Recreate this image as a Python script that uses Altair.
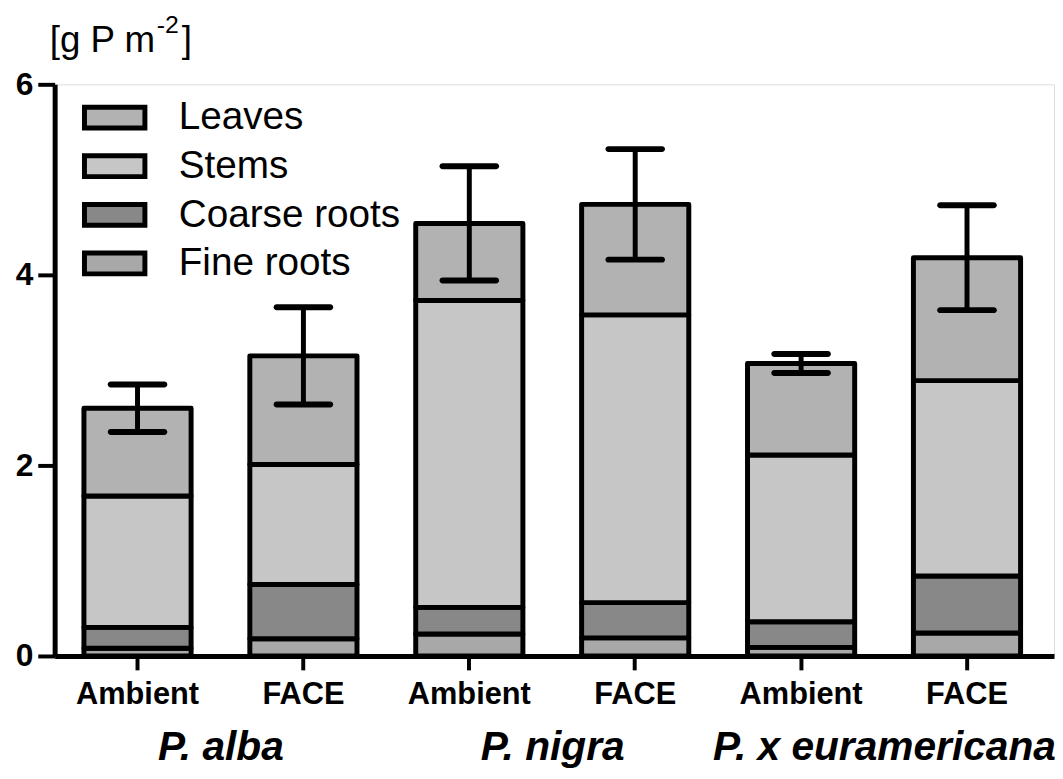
import altair as alt
import pandas as pd

# ---- data ----
species = ["P. alba", "P. alba", "P. nigra", "P. nigra", "P. x euramericana", "P. x euramericana"]
treatment = ["Ambient", "FACE", "Ambient", "FACE", "Ambient", "FACE"]
fine_roots = [0.08, 0.18, 0.23, 0.19, 0.09, 0.24]
coarse_roots = [0.22, 0.57, 0.28, 0.37, 0.27, 0.60]
stems = [1.38, 1.26, 3.22, 3.02, 1.75, 2.05]
leaves = [0.92, 1.14, 0.81, 1.16, 0.96, 1.29]
se = [0.25, 0.51, 0.60, 0.58, 0.10, 0.55]
components = ["Leaves", "Stems", "Coarse roots", "Fine roots"]
fills = ["#b2b2b2", "#c6c6c6", "#888888", "#a8a8a8"]
species_names = ["P. alba", "P. nigra", "P. x euramericana"]
y_ticks = [0, 2, 4, 6]

FONT = "Liberation Sans, Arial, Helvetica, sans-serif"

keys = [f"{s}|{t}" for s, t in zip(species, treatment)]
stack_parts = [("Fine roots", fine_roots), ("Coarse roots", coarse_roots),
               ("Stems", stems), ("Leaves", leaves)]
rows = []
for i, k in enumerate(keys):
    for order, (comp, vals) in enumerate(stack_parts):
        rows.append({"key": k, "component": comp, "value": vals[i], "order": order})
bars_df = pd.DataFrame(rows)

totals = [fine_roots[i] + coarse_roots[i] + stems[i] + leaves[i] for i in range(len(keys))]
err_df = pd.DataFrame({
    "key": keys,
    "lo": [t - s for t, s in zip(totals, se)],
    "hi": [t + s for t, s in zip(totals, se)],
})
species_df = pd.DataFrame({"key": [f"{s}|Ambient" for s in species_names], "name": species_names})

x_scale = alt.Scale(domain=keys, paddingInner=0.354, paddingOuter=0.189, align=0.467)
y_scale = alt.Scale(domain=[0, 6], nice=False)

x_enc = alt.X(
    "key:N", sort=keys, scale=x_scale, title=None,
    axis=alt.Axis(
        labelExpr="split(datum.label, '|')[1]", labelAngle=0,
        labelFont=FONT, labelFontSize=31, labelFontWeight="bold", labelColor="black",
        labelPadding=10, tickSize=14, tickWidth=4, tickColor="black",
        domainWidth=5, domainColor="black", grid=False,
    ),
)
y_axis = alt.Axis(
    values=y_ticks, format="d", labelFont=FONT, labelFontSize=32, labelFontWeight="bold",
    labelColor="black", labelPadding=5, tickSize=17, tickWidth=4, tickColor="black",
    domainWidth=5, domainColor="black", grid=False, title=None,
)

bars = alt.Chart(bars_df).mark_bar(stroke="black", strokeWidth=5, strokeJoin="round").encode(
    x=x_enc,
    y=alt.Y("value:Q", stack="zero", scale=y_scale, axis=y_axis),
    fill=alt.Fill(
        "component:N",
        scale=alt.Scale(domain=components, range=fills),
        legend=alt.Legend(
            orient="none", legendX=37, legendY=10, title=None,
            symbolType="M-1.45,-0.5L1.45,-0.5L1.45,0.5L-1.45,0.5Z", symbolSize=1764,
            symbolStrokeColor="black", symbolStrokeWidth=5, symbolOpacity=1,
            labelFont=FONT, labelFontSize=39, labelColor="black", labelOffset=41,
            labelLimit=500, rowPadding=5, padding=0,
        ),
    ),
    order=alt.Order("order:Q", sort="ascending"),
)

err_rule = alt.Chart(err_df).mark_rule(color="black", strokeWidth=5).encode(
    x=alt.X("key:N", sort=keys, scale=x_scale),
    y=alt.Y("lo:Q", scale=y_scale),
    y2="hi:Q",
)
cap_hi = alt.Chart(err_df).mark_tick(color="black", thickness=6, size=60, cornerRadius=3, opacity=1).encode(
    x=alt.X("key:N", sort=keys, scale=x_scale),
    y=alt.Y("hi:Q", scale=y_scale),
)
cap_lo = alt.Chart(err_df).mark_tick(color="black", thickness=6, size=60, cornerRadius=3, opacity=1).encode(
    x=alt.X("key:N", sort=keys, scale=x_scale),
    y=alt.Y("lo:Q", scale=y_scale),
)

species_text = alt.Chart(species_df).mark_text(
    font=FONT, fontSize=41, fontWeight="bold", fontStyle="italic",
    baseline="alphabetic", align="center", dx=84, color="black",
).encode(
    x=alt.X("key:N", sort=keys, scale=x_scale),
    y=alt.value(681),
    text="name:N",
)

unit_df = pd.DataFrame({"a": [0]})
unit_main = alt.Chart(unit_df).mark_text(
    font=FONT, fontSize=37, align="left", baseline="alphabetic", color="black",
).encode(x=alt.value(-5), y=alt.value(-33), text=alt.value("[g P m"))
unit_sup = alt.Chart(unit_df).mark_text(
    font=FONT, fontSize=25, align="left", baseline="alphabetic", color="black",
).encode(x=alt.value(103), y=alt.value(-52), text=alt.value("-2"))
unit_close = alt.Chart(unit_df).mark_text(
    font=FONT, fontSize=37, align="left", baseline="alphabetic", color="black",
).encode(x=alt.value(128), y=alt.value(-33), text=alt.value("]"))

chart = alt.layer(
    bars, err_rule, cap_hi, cap_lo, species_text, unit_main, unit_sup, unit_close
).properties(
    width=1007, height=576,
    autosize=alt.AutoSizeParams(type="none"),
    padding={"left": 47, "top": 74, "right": 1, "bottom": 113},
).configure_view(stroke=None).configure(background="white")

chart.save("out.html", embed_options={"renderer": "svg", "actions": False})
